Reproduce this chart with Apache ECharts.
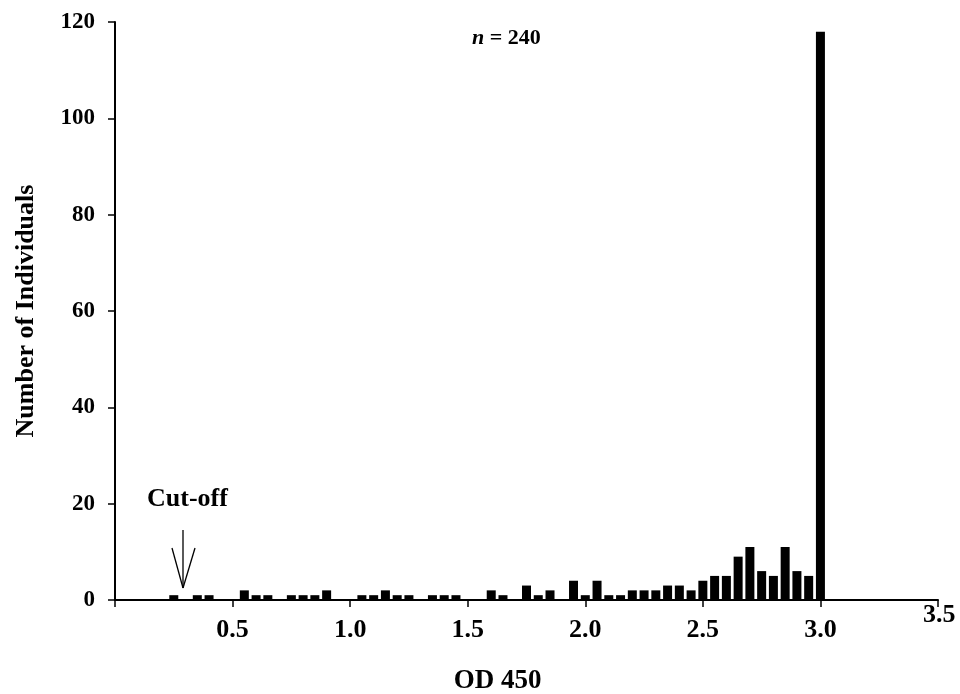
<!DOCTYPE html>
<html style="height: 100%">
<head>
    <meta charset="utf-8">
    <script src="https://cdn.jsdelivr.net/npm/echarts@6/dist/echarts.min.js"></script>
</head>
<body style="height: 100%; margin: 0; background: #fff">
    <div id="main" style="width:960px;height:694px;"></div>
    <script type="text/javascript">
    // OD 450 bins (0.05 wide) and number of individuals in each
    var odBins = [0.25, 0.35, 0.40, 0.55, 0.60, 0.65, 0.75, 0.80, 0.85, 0.90,
        1.05, 1.10, 1.15, 1.20, 1.25, 1.35, 1.40, 1.45, 1.60, 1.65,
        1.75, 1.80, 1.85, 1.95, 2.00, 2.05, 2.10, 2.15, 2.20, 2.25,
        2.30, 2.35, 2.40, 2.45, 2.50, 2.55, 2.60, 2.65, 2.70, 2.75,
        2.80, 2.85, 2.90, 2.95, 3.00];
    var counts = [1, 1, 1, 2, 1, 1, 1, 1, 1, 2,
        1, 1, 2, 1, 1, 1, 1, 1, 2, 1,
        3, 1, 2, 4, 1, 4, 1, 1, 2, 2,
        2, 3, 3, 2, 4, 5, 5, 9, 11, 6,
        5, 11, 6, 5, 118];
    var yTicks = [0, 20, 40, 60, 80, 100, 120];

    var serif = '"Liberation Serif", "DejaVu Serif", serif';
    var barData = odBins.map(function(x, i) { return [x, counts[i]]; });

    var myChart = echarts.init(document.getElementById('main'));
    var option = {
        animation: false,
        backgroundColor: '#fff',
        grid: { left: 115, right: 22, top: 22, bottom: 94, outerBoundsMode: 'none', containLabel: false },
        xAxis: {
            type: 'value',
            min: 0,
            max: 3.5,
            interval: 0.5,
            name: 'OD 450',
            nameLocation: 'middle',
            nameGap: 68,
            nameTextStyle: { fontFamily: serif, fontWeight: 'bold', fontSize: 27, color: '#000', padding: [0, 58, 0, 0] },
            axisLine: { lineStyle: { color: '#000', width: 2 } },
            axisTick: { length: 7, lineStyle: { color: '#000', width: 1.5 } },
            axisLabel: {
                fontFamily: serif, fontWeight: 'bold', fontSize: 26, color: '#000', margin: 17,
                formatter: function(v) { return (v === 0 || v === 3.5) ? '' : v.toFixed(1); }
            },
            splitLine: { show: false }
        },
        yAxis: {
            type: 'value',
            min: yTicks[0],
            max: yTicks[yTicks.length - 1],
            interval: 20,
            name: 'Number of Individuals',
            nameLocation: 'middle',
            nameGap: 76,
            nameTextStyle: { fontFamily: serif, fontWeight: 'bold', fontSize: 26, color: '#000' },
            axisLine: { show: true, lineStyle: { color: '#000', width: 2 } },
            axisTick: { show: true, length: 7, lineStyle: { color: '#000', width: 1.5 } },
            axisLabel: { fontFamily: serif, fontWeight: 'bold', fontSize: 23, color: '#000', margin: 20 },
            splitLine: { show: false }
        },
        series: [{
            type: 'bar',
            data: barData,
            barWidth: 9,
            itemStyle: { color: '#000' }
        }],
        graphic: [{
            type: 'text',
            left: 472, top: 27,
            style: {
                rich: {
                    i: { fontFamily: serif, fontStyle: 'italic', fontWeight: 'bold', fontSize: 22, fill: '#000' },
                    b: { fontFamily: serif, fontWeight: 'bold', fontSize: 22, fill: '#000' }
                },
                text: '{i|n}{b| = 240}'
            }
        }, {
            type: 'text',
            left: 923, top: 602,
            style: { text: '3.5', fontFamily: serif, fontWeight: 'bold', fontSize: 26, fill: '#000' }
        }, {
            type: 'text',
            left: 147, top: 486,
            style: { text: 'Cut-off', fontFamily: serif, fontWeight: 'bold', fontSize: 26, fill: '#000' }
        }, {
            type: 'group',
            children: [
                { type: 'line', shape: { x1: 183, y1: 530, x2: 183, y2: 588 }, style: { stroke: '#000', lineWidth: 1.3 } },
                { type: 'line', shape: { x1: 172, y1: 548, x2: 183, y2: 588 }, style: { stroke: '#000', lineWidth: 1.3 } },
                { type: 'line', shape: { x1: 195, y1: 548, x2: 183, y2: 588 }, style: { stroke: '#000', lineWidth: 1.3 } }
            ]
        }]
    };
    myChart.setOption(option);
    </script>
</body>
</html>
